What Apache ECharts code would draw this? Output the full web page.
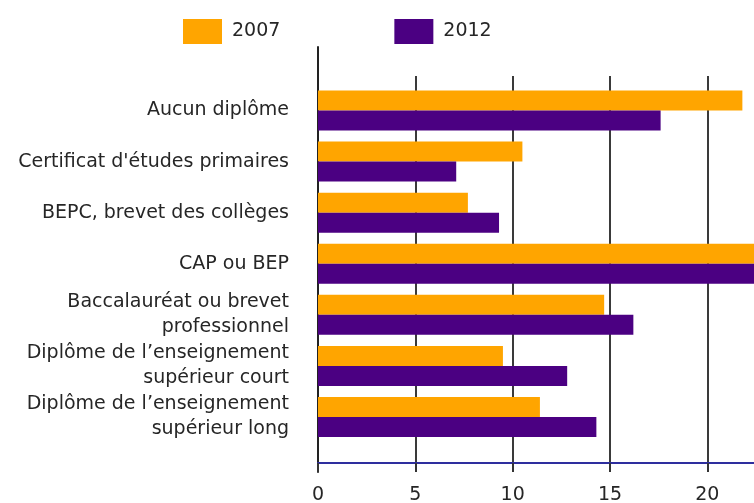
<!DOCTYPE html>
<html>
<head>
<meta charset="utf-8">
<script src="https://cdn.jsdelivr.net/npm/echarts@6/dist/echarts.min.js"></script>
<style>
  html, body { margin: 0; padding: 0; background: #fff; }
  #chart { width: 754px; height: 503px; }
</style>
</head>
<body>
<div id="chart"></div>
<script>
// Diploma categories, top to bottom
const categories = [
  'Aucun diplôme',
  "Certificat d'études primaires",
  'BEPC, brevet des collèges',
  'CAP ou BEP',
  'Baccalauréat ou brevet\nprofessionnel',
  'Diplôme de l’enseignement\nsupérieur court',
  'Diplôme de l’enseignement\nsupérieur long'
];
const seriesNames = ['2007', '2012'];
const values2007 = [21.8, 10.5, 7.7, 26.0, 14.7, 9.5, 11.4];
const values2012 = [17.6, 7.1, 9.3, 25.0, 16.2, 12.8, 14.3];
const xTicks = { min: 0, max: 30, interval: 5 };

const FONT = 'DejaVu Sans';
const TEXT = '#262626';
const ORANGE = '#FFA500';
const PURPLE = '#4B0082';

// shared horizontal extent: the value axis runs past the right border
const plotLeft = 318;
const plotWidth = 584;

const chart = echarts.init(document.getElementById('chart'));
chart.setOption({
  animation: false,
  backgroundColor: '#fff',
  legend: {
    data: seriesNames,
    left: 183,
    top: 19,
    padding: 0,
    icon: 'rect',
    itemWidth: 39,
    itemHeight: 25,
    itemGap: 114,
    textStyle: { fontFamily: FONT, fontSize: 19, color: TEXT, padding: [2, 0, 0, 5] }
  },
  grid: [
    // bars
    { left: plotLeft, width: plotWidth, top: 85, height: 357.5, outerBoundsMode: 'none', containLabel: false },
    // value axis with vertical grid lines and ticks
    { left: plotLeft, width: plotWidth, top: 76, height: 387, outerBoundsMode: 'none', containLabel: false },
    // left baseline
    { left: plotLeft, width: plotWidth, top: 47, height: 425, outerBoundsMode: 'none', containLabel: false }
  ],
  xAxis: [
    { gridIndex: 0, type: 'value', min: xTicks.min, max: xTicks.max, interval: xTicks.interval, show: false },
    {
      gridIndex: 1, type: 'value', min: xTicks.min, max: xTicks.max, interval: xTicks.interval,
      axisLine: { show: true, lineStyle: { color: '#2e2e9e', width: 2 } },
      axisTick: { show: true, length: 9, lineStyle: { color: '#333', width: 2 } },
      splitLine: { show: true, lineStyle: { color: '#3a3a3a', width: 2 } },
      axisLabel: { fontFamily: FONT, fontSize: 19, color: TEXT, margin: 23 }
    },
    { gridIndex: 2, type: 'value', min: xTicks.min, max: xTicks.max, show: false }
  ],
  yAxis: [
    {
      gridIndex: 0, type: 'category', data: categories, inverse: true,
      axisLine: { show: false }, axisTick: { show: false }, splitLine: { show: false },
      axisLabel: { fontFamily: FONT, fontSize: 19, color: TEXT, margin: 29, lineHeight: 25, align: 'right' }
    },
    { gridIndex: 1, type: 'value', show: false },
    {
      gridIndex: 2, type: 'value',
      axisLine: { show: true, lineStyle: { color: '#222', width: 2 } },
      axisTick: { show: false }, axisLabel: { show: false }, splitLine: { show: false }
    }
  ],
  series: [
    {
      name: seriesNames[0], type: 'bar', xAxisIndex: 0, yAxisIndex: 0,
      data: values2007, barWidth: 20, barGap: '0%',
      itemStyle: { color: ORANGE }
    },
    {
      name: seriesNames[1], type: 'bar', xAxisIndex: 0, yAxisIndex: 0,
      data: values2012, barWidth: 20, barGap: '0%',
      itemStyle: { color: PURPLE }
    }
  ]
});
</script>
</body>
</html>
